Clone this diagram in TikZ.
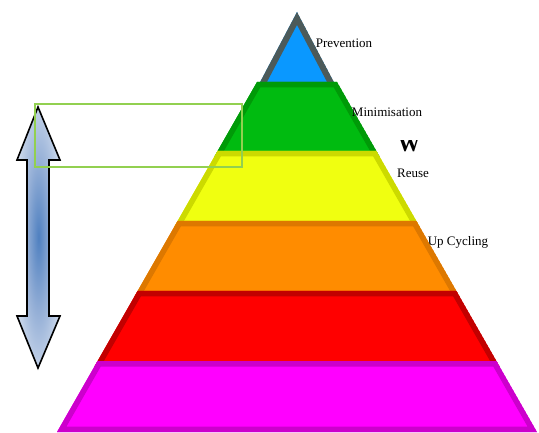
\documentclass[tikz,border=0pt]{standalone}
\usepackage{fontspec}
\setmainfont{Liberation Serif}
\definecolor{bluef}{HTML}{0A98FF}
\definecolor{blued}{HTML}{4C5A5A}
\definecolor{greenf}{HTML}{00BB10}
\definecolor{greend}{HTML}{009A08}
\definecolor{yellowf}{HTML}{F0FF10}
\definecolor{yellowd}{HTML}{CCDA00}
\definecolor{orangef}{HTML}{FF8C00}
\definecolor{oranged}{HTML}{DD7800}
\definecolor{redf}{HTML}{FF0000}
\definecolor{redd}{HTML}{C20000}
\definecolor{magf}{HTML}{FF00FF}
\definecolor{magd}{HTML}{CC00CC}
\definecolor{boxgreen}{HTML}{92D050}
\definecolor{arrdk}{HTML}{4F80C0}
\definecolor{arrlt}{HTML}{D6E0EF}
\definecolor{arrmd}{HTML}{93AED6}
\pgfdeclareradialshading{arrowshade}{\pgfpoint{0bp}{0bp}}{color(0bp)=(arrdk); color(14bp)=(arrmd); color(30bp)=(arrlt); color(50bp)=(arrlt)}
\tikzset{
  lbl/.style={font=\fontsize{13}{15}\selectfont, inner sep=0pt, text=black},
  wlbl/.style={font=\fontsize{22}{24}\selectfont\bfseries, inner sep=0pt, text=black},
}
\begin{document}
\begin{tikzpicture}[x=1pt,y=-1pt]
\useasboundingbox (0,0) rectangle (539,433);
% pyramid: apex (297,12); half-width at y = 0.5714*(y-12)
\def\pyr#1#2#3#4{%
  \pgfmathsetmacro{\ta}{297-0.5714*(#1-12)}\pgfmathsetmacro{\tb}{297+0.5714*(#1-12)}%
  \pgfmathsetmacro{\ba}{297-0.5714*(#2-12)}\pgfmathsetmacro{\bb}{297+0.5714*(#2-12)}%
  \begin{scope}
    \clip (\ta,#1) -- (\tb,#1) -- (\bb,#2) -- (\ba,#2) -- cycle;
    \fill[#3] (\ta,#1) -- (\tb,#1) -- (\bb,#2) -- (\ba,#2) -- cycle;
    \draw[#4, line width=11pt, line join=miter] (\ta,#1) -- (\tb,#1) -- (\bb,#2) -- (\ba,#2) -- cycle;
  \end{scope}}
% blue triangle
\begin{scope}
  \clip (297,12) -- (337,88) -- (257,88) -- cycle;
  \fill[bluef] (297,12) -- (337,88) -- (257,88) -- cycle;
  \draw[blued, line width=12pt, line join=miter] (297,12) -- (337,88) -- (257,88) -- cycle;
\end{scope}
\pyr{82}{157}{greenf}{greend}
\pyr{151}{227}{yellowf}{yellowd}
\pyr{221}{297}{orangef}{oranged}
\pyr{291}{367}{redf}{redd}
\pyr{361}{432}{magf}{magd}
% labels
\node[lbl] (prev) at (344,43) {Prevention};
\node[lbl] (mini) at (387,112) {Minimisation};
\begin{scope}
  \clip (395,141) rectangle (425,155);
  \node[wlbl] (w) at (409,144) {W};
\end{scope}
\node[lbl] (reuse) at (413,173) {Reuse};
\node[lbl] (upc) at (458,242) {Up Cycling};
% double arrow
\path[shading=arrowshade, draw=black, line width=1.6pt, line join=miter]
  (38,107) -- (60,160) -- (49,160) -- (49,316) -- (60,316) -- (38,368)
  -- (17,316) -- (27,316) -- (27,160) -- (17,160) -- cycle;
% green box
\draw[boxgreen, line width=1.8pt] (35,104) rectangle (242,167);
\end{tikzpicture}
\end{document}
